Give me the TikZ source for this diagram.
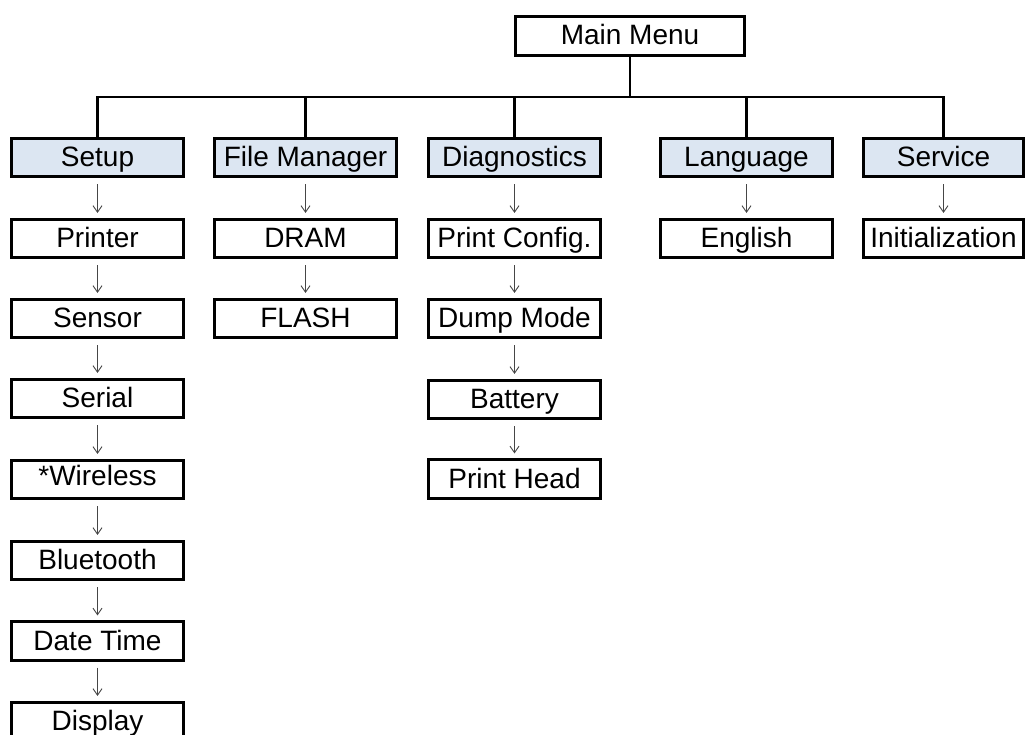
\documentclass[tikz,border=0pt]{standalone}
\usepackage{fontspec}
\setmainfont{Liberation Sans}
\usetikzlibrary{arrows.meta}
\definecolor{topfill}{RGB}{220,230,242}
\definecolor{arrgray}{RGB}{70,70,70}
\begin{document}
\begin{tikzpicture}[x=1pt,y=-1pt,
  box/.style={draw=black, line width=2.6pt, inner sep=0pt, minimum height=38.5pt,
    font=\fontsize{28}{32}\selectfont, text height=21pt, text depth=3pt},
  topbox/.style={box, fill=topfill},
  link/.style={draw=black, line width=2.8pt},
  arr/.style={draw=arrgray, line width=0.9pt, -{Straight Barb[length=6.5pt,width=9pt]},
    shorten <=6pt, shorten >=5pt}]
\useasboundingbox (0,0) rectangle (1026,735);
\clip (0,0) rectangle (1026,735);

% main
\node[box, minimum width=229pt, minimum height=39.5pt] (main) at (630,36) {Main Menu};

% top level
\node[topbox, minimum width=172pt] (setup) at (97.5,157.5) {Setup};
\node[topbox, minimum width=182pt] (fm) at (305.5,157.5) {File Manager};
\node[topbox, minimum width=172pt] (diag) at (514.5,157.5) {Diagnostics};
\node[topbox, minimum width=172pt] (lang) at (746.5,157.5) {Language};
\node[topbox, minimum width=160pt] (serv) at (943.5,157.5) {Service};

\coordinate (bar) at (630,97);
\draw[link] (main.south) -- (bar);
\draw[link] (bar) -| (setup.north);
\draw[link] (bar) -| (fm.north);
\draw[link] (bar) -| (diag.north);
\draw[link] (bar) -| (lang.north);
\draw[link] (bar) -| (serv.north);

% setup column
\node[box, minimum width=172pt] (s1) at (97.5,238.5) {Printer};
\node[box, minimum width=172pt] (s2) at (97.5,318.5) {Sensor};
\node[box, minimum width=172pt] (s3) at (97.5,398.5) {Serial};
\node[box, minimum width=172pt, text height=21pt, text depth=10pt] (s4) at (97.5,479.5) {*Wireless};
\node[box, minimum width=172pt] (s5) at (97.5,560.5) {Bluetooth};
\node[box, minimum width=172pt] (s6) at (97.5,641) {Date Time};
\node[box, minimum width=172pt] (s7) at (97.5,721.5) {Display};
\draw[arr] (setup) -- (s1);
\draw[arr] (s1) -- (s2);
\draw[arr] (s2) -- (s3);
\draw[arr] (s3) -- (s4);
\draw[arr] (s4) -- (s5);
\draw[arr] (s5) -- (s6);
\draw[arr] (s6) -- (s7);

% file manager column
\node[box, minimum width=182pt] (f1) at (305.5,238.5) {DRAM};
\node[box, minimum width=182pt] (f2) at (305.5,318.5) {FLASH};
\draw[arr] (fm) -- (f1);
\draw[arr] (f1) -- (f2);

% diagnostics column
\node[box, minimum width=172pt] (d1) at (514.5,238.5) {Print Config.};
\node[box, minimum width=172pt] (d2) at (514.5,318.5) {Dump Mode};
\node[box, minimum width=172pt] (d3) at (514.5,399.5) {Battery};
\node[box, minimum width=172pt] (d4) at (514.5,479) {Print Head};
\draw[arr] (diag) -- (d1);
\draw[arr] (d1) -- (d2);
\draw[arr] (d2) -- (d3);
\draw[arr] (d3) -- (d4);

% language
\node[box, minimum width=172pt] (l1) at (746.5,238.5) {English};
\draw[arr] (lang) -- (l1);

% service
\node[box, minimum width=160pt] (v1) at (943.5,238.5) {Initialization};
\draw[arr] (serv) -- (v1);
\end{tikzpicture}
\end{document}
